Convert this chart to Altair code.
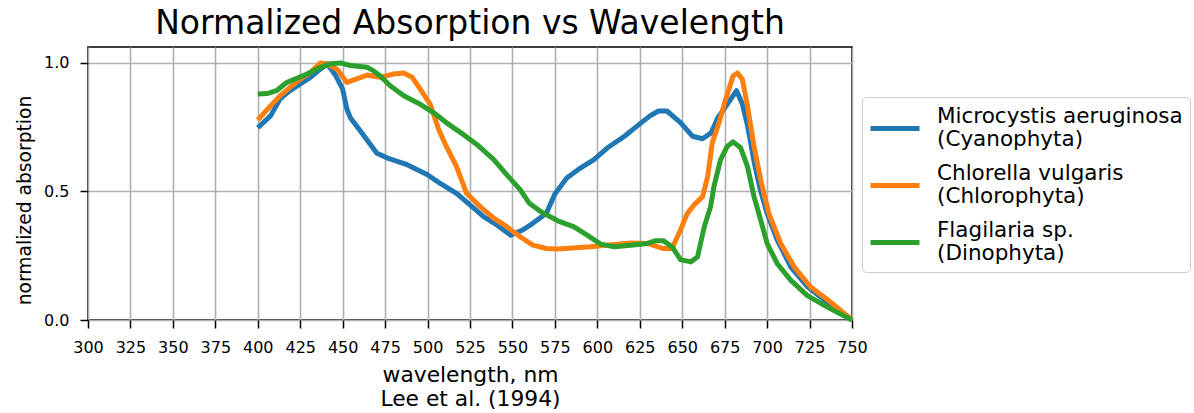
import altair as alt
import pandas as pd

species = [
    "Microcystis aeruginosa|(Cyanophyta)",
    "Chlorella vulgaris|(Chlorophyta)",
    "Flagilaria sp.|(Dinophyta)",
]
colors = ["#1f77b4", "#ff7f0e", "#2ca02c"]

micro_wl = [400, 407.5, 413, 419, 425, 431, 437, 441, 446, 450, 452.5, 454.5, 462, 470, 476,
            488, 500, 507, 517, 525, 533, 541, 549, 556, 562, 570, 575, 582, 590, 598, 606,
            616, 623.5, 631, 636, 641, 649, 656, 662, 667, 671, 676.5, 682, 685.5, 688.5,
            692.5, 696, 700, 706, 714, 724, 735.5, 750]
micro_abs = [0.748, 0.794, 0.859, 0.892, 0.918, 0.944, 0.977, 0.996, 0.95, 0.898, 0.82, 0.787,
             0.722, 0.65, 0.631, 0.604, 0.565, 0.533, 0.493, 0.448, 0.402, 0.369, 0.33, 0.35,
             0.376, 0.415, 0.49, 0.552, 0.591, 0.624, 0.67, 0.715, 0.755, 0.794, 0.813, 0.813,
             0.768, 0.715, 0.705, 0.728, 0.787, 0.839, 0.892, 0.839, 0.755, 0.611, 0.506,
             0.415, 0.311, 0.206, 0.128, 0.069, 0.0]

chlor_wl = [400, 407.5, 413, 419, 425, 431, 437, 441, 447, 452.5, 458, 464.5, 472, 480, 486,
            491, 495.7, 501.6, 506.5, 511, 517, 523, 531, 539, 546.7, 554.5, 562, 570, 577,
            596, 619.6, 629.4, 639, 644, 649, 653, 657, 662, 665, 667.7, 671.7, 675.6, 680,
            682.5, 685.4, 688.4, 692.3, 696.2, 701, 708, 716, 725.7, 737.5, 750]
chlor_abs = [0.778, 0.833, 0.872, 0.905, 0.937, 0.963, 1.0, 0.996, 0.974, 0.924, 0.937, 0.953,
             0.944, 0.957, 0.961, 0.944, 0.898, 0.839, 0.742, 0.676, 0.598, 0.493, 0.441,
             0.396, 0.363, 0.324, 0.291, 0.278, 0.276, 0.285, 0.3, 0.298, 0.278, 0.278, 0.35,
             0.415, 0.448, 0.48, 0.559, 0.689, 0.768, 0.859, 0.95, 0.961, 0.937, 0.833, 0.676,
             0.546, 0.415, 0.298, 0.206, 0.128, 0.069, 0.0]

flag_wl = [400, 405.5, 411, 417, 423, 429, 437, 443, 448.6, 454.5, 464.3, 468, 472, 478, 486,
           495.7, 503.5, 511, 521, 529, 539, 546.7, 554.5, 560, 567, 577, 586, 594, 602, 610,
           619.6, 629.4, 634, 639, 644, 649, 655, 659, 663, 666.7, 668.7, 672.6, 676.6, 680,
           684.4, 688.4, 692.3, 696.2, 700, 706, 714, 723.7, 735.5, 750]
flag_abs = [0.879, 0.881, 0.892, 0.924, 0.94, 0.957, 0.983, 0.997, 1.0, 0.99, 0.983, 0.97,
            0.95, 0.911, 0.872, 0.839, 0.807, 0.768, 0.722, 0.683, 0.624, 0.565, 0.507, 0.454,
            0.42, 0.385, 0.363, 0.33, 0.295, 0.285, 0.291, 0.298, 0.308, 0.308, 0.285, 0.235,
            0.226, 0.245, 0.363, 0.441, 0.52, 0.624, 0.676, 0.693, 0.67, 0.598, 0.48, 0.389,
            0.298, 0.219, 0.154, 0.095, 0.05, 0.0]

x_ticks = list(range(300, 751, 25))
y_ticks = [0.0, 0.5, 1.0]

rows = []
for name, wl, ab in zip(species, [micro_wl, chlor_wl, flag_wl], [micro_abs, chlor_abs, flag_abs]):
    for w, a in zip(wl, ab):
        rows.append({"species": name, "wavelength": w, "absorption": a})
df = pd.DataFrame(rows)

FONT = "DejaVu Sans"

chart = alt.Chart(df).mark_line(strokeWidth=5, strokeJoin="round", strokeCap="butt").encode(
    x=alt.X(
        "wavelength:Q",
        scale=alt.Scale(domain=[300, 750], nice=False, zero=False),
        axis=alt.Axis(
            values=x_ticks,
            format="d",
            title=["wavelength, nm", "Lee et al. (1994)"],
            titleY=61,
            titleFontSize=21.8,
            titleBaseline="alphabetic",
            titleLineHeight=24,
            labelFlush=False,
            labelOverlap=False,
        ),
    ),
    y=alt.Y(
        "absorption:Q",
        scale=alt.Scale(domain=[0, 1.062], nice=False),
        axis=alt.Axis(
            values=y_ticks,
            format=".1f",
            title="normalized absorption",
            titleFontSize=18.7,
            titleX=-58,
            titleY=153,
            titleAngle=270,
            titleAlign="center",
            titleBaseline="alphabetic",
        ),
    ),
    color=alt.Color(
        "species:N",
        scale=alt.Scale(domain=species, range=colors),
        legend=alt.Legend(
            title=None,
            orient="none",
            legendX=774,
            legendY=50,
            labelExpr="split(datum.label, '|')",
            labelFont=FONT,
            labelFontSize=21.5,
            labelColor="#000000",
            labelLimit=500,
            labelOffset=43,
            symbolType="M-1.1,1.2L3.8,1.2",
            symbolSize=400,
            symbolStrokeWidth=5,
            symbolOpacity=1,
            rowPadding=10,
            padding=7,
            strokeColor="#cccccc",
            fillColor="#ffffff",
            cornerRadius=4,
        ),
    ),
).properties(
    width=764,
    height=273,
    title=alt.TitleParams(
        "Normalized Absorption vs Wavelength",
        font=FONT,
        fontSize=33,
        fontWeight="normal",
        color="#000000",
        anchor="middle",
        offset=6,
    ),
    autosize=alt.AutoSizeParams(type="none"),
    padding={"left": 88, "top": 47, "right": 342, "bottom": 93},
).configure_view(
    stroke="#000000",
    strokeWidth=1.6,
).configure_axis(
    labelFont=FONT,
    labelFontSize=16,
    labelColor="#000000",
    titleFont=FONT,
    titleFontSize=21,
    titleFontWeight="normal",
    titleColor="#000000",
    tickColor="#000000",
    tickSize=8,
    tickWidth=1.5,
    labelPadding=11,
    domain=False,
    grid=True,
    gridColor="#b0b0b0",
    gridWidth=1.6,
    gridOpacity=1,
)

chart.save("out.html", embed_options={"renderer": "svg", "actions": False})
